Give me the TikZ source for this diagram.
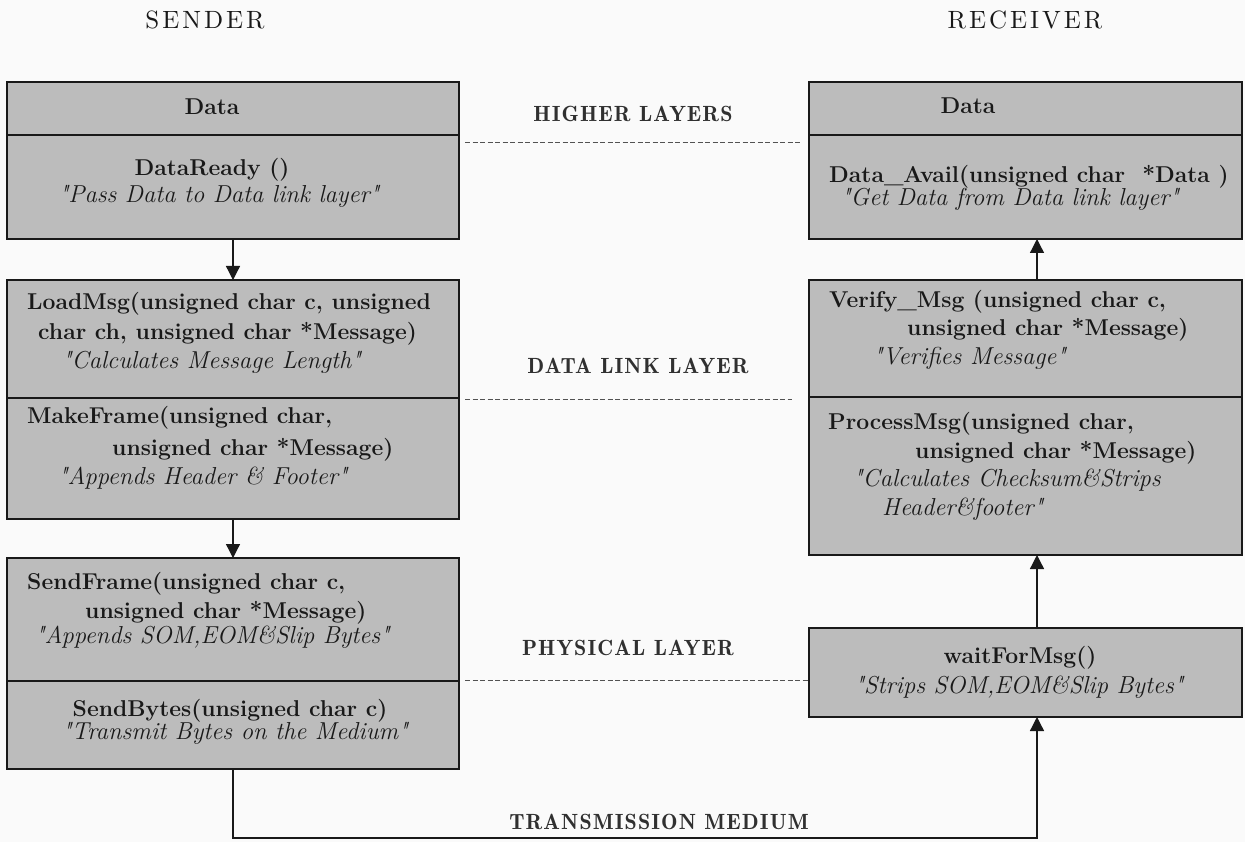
\documentclass[tikz,border=0pt]{standalone}
\usepackage{fontspec}
\usetikzlibrary{arrows.meta}
\newfontfamily\lblfam{lmromandemi10-regular.otf}[LetterSpace=5]
\newfontfamily\hdrfam{lmroman10-regular.otf}[LetterSpace=12]
\newcommand\fnb{\fontsize{22.9}{27}\selectfont\bfseries}
\newcommand\fni{\fontsize{24.5}{27}\selectfont\itshape}
\newcommand\fnl{\lblfam\fontsize{22}{26}\selectfont}
\newcommand\fnh{\hdrfam\fontsize{25}{28}\selectfont}
\newcommand\q{\textquotedbl}
\definecolor{boxfill}{RGB}{188,188,188}
\definecolor{ink}{RGB}{25,25,25}
\definecolor{bg}{RGB}{250,250,250}
\tikzset{
  sec/.style={draw=ink, line width=1.3pt, fill=boxfill, anchor=north west, inner sep=0pt, outer sep=0pt},
  tb/.style={anchor=base west, inner sep=0pt, text=ink, font=\fnb},
  ti/.style={anchor=base west, inner sep=0pt, text=ink, font=\fni},
  tbc/.style={anchor=base, inner sep=0pt, text=ink, font=\fnb},
  tic/.style={anchor=base, inner sep=0pt, text=ink, font=\fni},
  lbl/.style={inner sep=0pt, text=ink!90, font=\fnl},
  hdr/.style={inner sep=0pt, text=ink, font=\fnh},
  conn/.style={draw=ink, line width=1.3pt, -{Triangle[width=14pt,length=14pt]}},
  sep/.style={draw=ink!75, line width=1pt, dash pattern=on 5pt off 2.5pt}
}
\begin{document}
\begin{tikzpicture}[x=1pt,y=-1pt]
\fill[bg] (0,0) rectangle (1245,842);
\useasboundingbox (0,0) rectangle (1245,842);

% headers
\node[hdr] (snd) at (205,20) {SENDER};
\node[hdr] (rcv) at (1025,20) {RECEIVER};

% sender boxes
\node[sec, minimum width=452pt, minimum height=53pt]  (s1a) at (7,82)  {};
\node[sec, minimum width=452pt, minimum height=104pt] (s1b) at (7,135) {};
\node[sec, minimum width=452pt, minimum height=118pt] (s2a) at (7,280) {};
\node[sec, minimum width=452pt, minimum height=121pt] (s2b) at (7,398) {};
\node[sec, minimum width=452pt, minimum height=123pt] (s3a) at (7,558) {};
\node[sec, minimum width=452pt, minimum height=88pt]  (s3b) at (7,681) {};

% receiver boxes
\node[sec, minimum width=433pt, minimum height=53pt]  (r1a) at (809,82)  {};
\node[sec, minimum width=433pt, minimum height=104pt] (r1b) at (809,135) {};
\node[sec, minimum width=433pt, minimum height=117pt] (r2a) at (809,280) {};
\node[sec, minimum width=433pt, minimum height=158pt] (r2b) at (809,397) {};
\node[sec, minimum width=433pt, minimum height=89pt]  (w)   at (809,628) {};

% sender texts
\node[tbc] (t1) at (212,115) {Data};
\node[tbc] (t2) at (212,176) {DataReady ()};
\node[tic] (t3) at (219,203) {\q Pass Data to Data link layer\q};

\node[tb] (t4) at (27,309) {LoadMsg(unsigned char c, unsigned};
\node[tb] (t5) at (38,339) {char ch, unsigned char *Message)};
\node[ti] (t6) at (62,368) {\q Calculates Message Length\q};
\node[tb] (t7) at (27,423) {MakeFrame(unsigned char,};
\node[tb] (t8) at (112,455) {unsigned char *Message)};
\node[ti] (t9) at (58,484) {\q Appends Header \& Footer\q};

\node[tb] (t10) at (27,589) {SendFrame(unsigned char c,};
\node[tb] (t11) at (85,618) {unsigned char *Message)};
\node[ti] (t12) at (35,643) {\q Appends SOM,EOM\&Slip Bytes\q};
\node[tbc] (t13) at (230,716) {SendBytes(unsigned char c)};
\node[tic] (t14) at (235,739) {\q Transmit Bytes on the Medium\q};

% receiver texts
\node[tbc] (u1) at (968,114) {Data};
\node[tb] (u2) at (829,183) {Data\_Avail(unsigned char\ \ *Data )};
\node[ti] (u3) at (841,206) {\q Get Data from Data link layer\q};

\node[tb] (u4) at (829,308) {Verify\_Msg (unsigned char c,};
\node[tb] (u5) at (907,336) {unsigned char *Message)};
\node[ti] (u6) at (873,364) {\q Verifies Message\q};
\node[tb] (u7) at (828,429) {ProcessMsg(unsigned char,};
\node[tb] (u8) at (915,458) {unsigned char *Message)};
\node[ti] (u9) at (853,486) {\q Calculates Checksum\&Strips};
\node[ti] (u10) at (882,515) {Header\&footer\q};

\node[tbc] (u11) at (1020,663) {waitForMsg()};
\node[tic] (u12) at (1019,693) {\q Strips SOM,EOM\&Slip Bytes\q};

% layer labels
\node[lbl] (hl) at (633,114) {HIGHER LAYERS};
\node[lbl] (dl) at (638,366) {DATA LINK LAYER};
\node[lbl] (pl) at (628,648) {PHYSICAL LAYER};
\node[lbl] (tm) at (659,822) {TRANSMISSION MEDIUM};

% layer separators
\draw[sep] ([xshift=6pt,yshift=-8pt]s1b.north east) -- ([xshift=-7pt,yshift=-8pt]r1b.north west);
\draw[sep] ([xshift=6pt,yshift=-1pt]s2b.north east) -- ([xshift=-17pt,yshift=-2pt]r2b.north west);
\draw[sep] ([xshift=6pt,yshift=1pt]s3b.north east) -- ([yshift=-7.5pt]w.west);

% connectors
\coordinate (rx) at (1037,0);
\coordinate (busy) at (0,838);
\draw[conn] (s1b.south) -- (s2a.north);
\draw[conn] (s2b.south) -- (s3a.north);
\draw[conn] (r2a.north -| rx) -- (r1b.south -| rx);
\draw[conn] (w.north -| rx) -- (r2b.south -| rx);
\draw[conn] (s3b.south) -- (s3b.south |- busy) -| (w.south -| rx);
\end{tikzpicture}
\end{document}
